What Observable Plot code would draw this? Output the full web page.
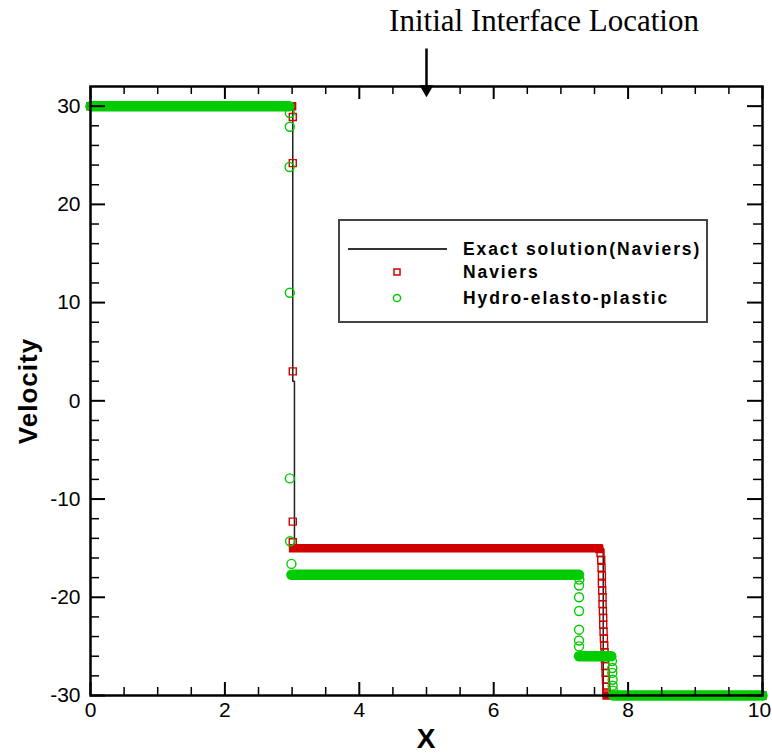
<!DOCTYPE html>
<html><head><meta charset="utf-8">
<script src="https://cdn.jsdelivr.net/npm/d3@7"></script>
<script src="https://cdn.jsdelivr.net/npm/@observablehq/plot@0.6"></script>
<style>
body{margin:0;background:#fff;}
#wrap{position:relative;width:772px;height:753px;overflow:hidden;font-family:"Liberation Sans",Arial,sans-serif;}
#title{position:relative;height:40px;}
#title span{position:absolute;left:544px;top:6px;transform:translateX(-50%);font-family:"Liberation Serif","Times New Roman",serif;font-size:31px;line-height:30px;white-space:nowrap;color:#000;}
#ylab{position:absolute;left:28px;top:391px;transform:translate(-50%,-50%) rotate(-90deg);font-weight:bold;font-size:26px;letter-spacing:1px;white-space:nowrap;}
#xlab{position:absolute;left:426px;top:739px;transform:translate(-50%,-50%);font-weight:bold;font-size:28px;}
#legend{position:absolute;left:338px;top:219px;}
#plot{position:relative;}
</style></head>
<body>
<div id="wrap">
  <div id="title"><span>Initial Interface Location</span></div>
  <div id="plot"></div>
  <div id="ylab">Velocity</div>
  <div id="xlab">X</div>
  <svg id="legend" width="372" height="106">
    <rect x="1" y="1" width="368" height="102" fill="#fff" stroke="#444" stroke-width="2"/>
    <line x1="10" x2="109" y1="30" y2="30" stroke="#333" stroke-width="2"/>
    <rect x="56" y="50" width="6" height="6" fill="none" stroke="#d00000" stroke-width="1.5"/>
    <circle cx="59" cy="79" r="3.6" fill="none" stroke="#00cc00" stroke-width="1.5"/>
    <g font-family="Liberation Sans, Arial, sans-serif" font-weight="bold" font-size="17.5" letter-spacing="1.9" fill="#000" dominant-baseline="central">
      <text x="125" y="30">Exact solution(Naviers)</text>
      <text x="125" y="53">Naviers</text>
      <text x="125" y="79">Hydro-elasto-plastic</text>
    </g>
  </svg>
</div>
<script>
// ---- data ----
const xMajor = [0, 2, 4, 6, 8, 10];
const xMinor = [0.5, 1, 1.5, 2.5, 3, 3.5, 4.5, 5, 5.5, 6.5, 7, 7.5, 8.5, 9, 9.5];
const yMajor = [-30, -20, -10, 0, 10, 20, 30];
const yMinor = [-28, -26, -24, -22, -18, -16, -14, -12, -8, -6, -4, -2, 2, 4, 6, 8, 12, 14, 16, 18, 22, 24, 26, 28];
const interfaceX = [5];

// exact solution (Naviers)
const exactX = [0, 3.01, 3.01, 3.035, 3.035, 7.63, 7.63, 10];
const exactV = [30, 30, 2, 2, -15, -15, -30, -30];

// Naviers: dense constant states (start, end, value)
const navPlateauStart = [0, 3.015, 7.68];
const navPlateauEnd = [3.0, 7.56, 10];
const navPlateauV = [30, -15, -30];
// Naviers: points in the jumps
const navJumpX = [3.01, 3.01, 3.01, 3.01, 3.01,
  7.57, 7.59, 7.60, 7.605, 7.61, 7.61, 7.615, 7.62, 7.62, 7.625, 7.63, 7.63, 7.635, 7.64, 7.645, 7.65, 7.655, 7.66, 7.665, 7.67, 7.675, 7.68];
const navJumpV = [28.9, 24.2, 3.0, -12.3, -14.4,
  -15.1, -15.5, -16.2, -17.0, -17.8, -18.6, -19.3, -20.0, -20.7, -21.4, -22.1, -22.8, -23.5, -24.2, -24.9, -25.6, -26.3, -27.0, -27.7, -28.4, -29.1, -29.7];

// Hydro-elasto-plastic: dense constant states
const hepPlateauStart = [0, 2.99, 7.27, 7.78];
const hepPlateauEnd = [2.96, 7.27, 7.75, 10];
const hepPlateauV = [30, -17.7, -26.0, -30];
// Hydro-elasto-plastic: points in the jumps
const hepJumpX = [2.966, 2.966, 2.962, 2.966, 2.966, 2.97, 2.99,
  7.275, 7.27, 7.27, 7.27, 7.27, 7.27, 7.27,
  7.76, 7.765, 7.765, 7.77, 7.77, 7.775];
const hepJumpV = [29.3, 27.9, 23.8, 11.0, -7.9, -14.3, -16.6,
  -18.2, -18.8, -20.0, -21.4, -23.3, -24.4, -25.0,
  -26.5, -27.2, -27.7, -28.4, -29.0, -29.5];

// ---- build tables ----
const exact = exactX.map((x, i) => ({x, v: exactV[i]}));
const navPlateaus = navPlateauStart.map((x0, i) => ({x0, x1: navPlateauEnd[i], v: navPlateauV[i]}));
const navJumps = navJumpX.map((x, i) => ({x, v: navJumpV[i]}));
const hepPlateaus = hepPlateauStart.map((x0, i) => ({x0, x1: hepPlateauEnd[i], v: hepPlateauV[i]}));
const hepJumps = hepJumpX.map((x, i) => ({x, v: hepJumpV[i]}));

const RED = "#d00000", GREEN = "#00cc00";
const W = 772, H = 713, mt = 46, mb = 58, ml = 90, mr = 10;
const xDom = [0, 10], yDom = [-30, 32];
const pxY = (H - mt - mb) / (yDom[1] - yDom[0]);
const pxX = (W - ml - mr) / (xDom[1] - xDom[0]);

const tickMarks = (vals, len, sw) => [
  Plot.ruleX(vals, {x: d => d, y1: yDom[0], y2: yDom[0] + len / pxY, strokeWidth: sw, stroke: "#000"}),
  Plot.ruleX(vals, {x: d => d, y1: yDom[1], y2: yDom[1] - len / pxY, strokeWidth: sw, stroke: "#000"})
];
const tickMarksY = (vals, len, sw) => [
  Plot.ruleY(vals, {y: d => d, x1: xDom[0], x2: xDom[0] + len / pxX, strokeWidth: sw, stroke: "#000"}),
  Plot.ruleY(vals, {y: d => d, x1: xDom[1], x2: xDom[1] - len / pxX, strokeWidth: sw, stroke: "#000"})
];
const lastX = xMajor[xMajor.length - 1];

const chart = Plot.plot({
  width: W, height: H,
  marginTop: mt, marginBottom: mb, marginLeft: ml, marginRight: mr,
  style: {fontFamily: "Liberation Sans, Arial, sans-serif", fontSize: "21px", color: "#000", background: "transparent"},
  x: {domain: xDom},
  y: {domain: yDom},
  marks: [
    Plot.line(exact, {x: "x", y: "v", stroke: "#222", strokeWidth: 1.5}),
    Plot.link(navPlateaus, {x1: "x0", x2: "x1", y1: "v", y2: "v", stroke: RED, strokeWidth: 8.5, strokeLinecap: "square"}),
    Plot.dot(navJumps, {x: "x", y: "v", symbol: "square", r: 3.95, stroke: RED, strokeWidth: 1.4, fill: "none"}),
    Plot.link(hepPlateaus, {x1: "x0", x2: "x1", y1: "v", y2: "v", stroke: GREEN, strokeWidth: 10.5, strokeLinecap: "round"}),
    Plot.dot(hepJumps, {x: "x", y: "v", r: 4.5, stroke: GREEN, strokeWidth: 1.4, fill: "none"}),
    Plot.frame({stroke: "#000", strokeWidth: 2.5}),
    ...tickMarks(xMajor, 13, 2),
    ...tickMarks(xMinor, 8, 1.5),
    ...tickMarksY(yMajor, 15, 2),
    ...tickMarksY(yMinor, 9, 1.5),
    Plot.axisX({ticks: xMajor.filter(d => d !== lastX), tickSize: 0, tickPadding: 7, tickFormat: d => String(d), label: null, fontSize: 21}),
    Plot.axisX({ticks: [lastX], tickSize: 0, tickPadding: 7, tickFormat: d => String(d), label: null, fontSize: 21, dx: -3}),
    Plot.axisY({ticks: yMajor, tickSize: 0, tickPadding: 10, tickFormat: d => String(d), label: null, fontSize: 21}),
    Plot.link(interfaceX, {x1: d => d, x2: d => d, y1: yDom[1] + 38 / pxY, y2: yDom[1] - 1 / pxY, stroke: "#000", strokeWidth: 2.5}),
    Plot.dot(interfaceX, {x: d => d, y: yDom[1] - 2.7 / pxY, symbol: "triangle", rotate: 180, r: 5.2, fill: "#000", stroke: null})
  ]
});
document.getElementById("plot").appendChild(chart);
</script>
</body></html>
